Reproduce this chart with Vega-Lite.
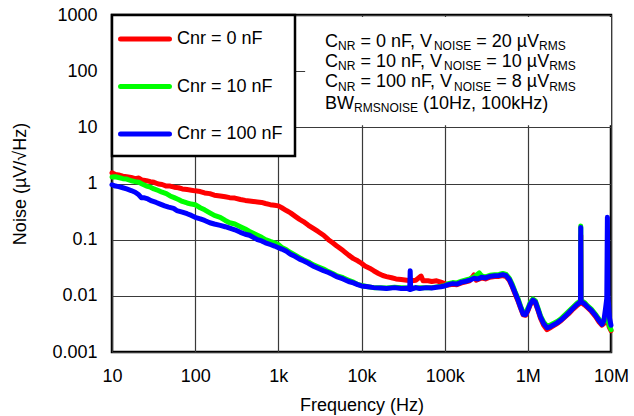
{
"$schema": "https://vega.github.io/schema/vega-lite/v6.json",
"width": 499, "height": 337,
"autosize": "none",
"padding": {"left": 112, "top": 15, "right": 23, "bottom": 64},
"background": "white",
"config": {
  "view": {"stroke": "black", "strokeWidth": 2.5},
  "font": "Liberation Sans",
  "axis": {"labelFont": "Liberation Sans", "labelFontSize": 18, "labelColor": "black", "titleFont": "Liberation Sans", "titleFontSize": 18, "titleFontWeight": "normal", "titleColor": "black", "ticks": false, "domain": false, "grid": true, "gridColor": "#3a3a3a", "gridWidth": 1.2, "gridOpacity": 1},
  "legend": {"fillColor": "white", "strokeColor": "black", "strokeWidth": 2.5, "padding": 12, "rowPadding": 25.5, "symbolType": "M-2.67,0H2.67", "symbolSize": 336, "symbolStrokeWidth": 5, "symbolOffset": 9, "labelOffset": 20, "labelFontSize": 18, "labelFont": "Liberation Sans", "labelColor": "black", "labelLimit": 300}
},
"datasets": {
"red": [
{"s":"0","f":10,"v":1.55},{"s":"0","f":11,"v":1.45},{"s":"0","f":12,"v":1.42},{"s":"0","f":13.5,"v":1.35},{"s":"0","f":15,"v":1.32},{"s":"0","f":17,"v":1.28},{"s":"0","f":19,"v":1.22},{"s":"0","f":21,"v":1.25},{"s":"0","f":23,"v":1.15},{"s":"0","f":26,"v":1.12},{"s":"0","f":29,"v":1.08},{"s":"0","f":32,"v":1.05},{"s":"0","f":36,"v":0.98},{"s":"0","f":40,"v":0.96},{"s":"0","f":45,"v":0.9},{"s":"0","f":50,"v":0.9},{"s":"0","f":56,"v":0.86},{"s":"0","f":63,"v":0.84},{"s":"0","f":70,"v":0.8},{"s":"0","f":80,"v":0.78},{"s":"0","f":90,"v":0.76},{"s":"0","f":100,"v":0.74},{"s":"0","f":115,"v":0.72},{"s":"0","f":130,"v":0.68},{"s":"0","f":150,"v":0.66},{"s":"0","f":170,"v":0.62},{"s":"0","f":200,"v":0.6},{"s":"0","f":230,"v":0.58},{"s":"0","f":260,"v":0.56},{"s":"0","f":300,"v":0.55},{"s":"0","f":350,"v":0.52},{"s":"0","f":400,"v":0.5},{"s":"0","f":450,"v":0.49},{"s":"0","f":500,"v":0.48},{"s":"0","f":560,"v":0.47},{"s":"0","f":630,"v":0.46},{"s":"0","f":700,"v":0.44},{"s":"0","f":800,"v":0.42},{"s":"0","f":900,"v":0.41},{"s":"0","f":1000,"v":0.4},{"s":"0","f":1100,"v":0.37},{"s":"0","f":1250,"v":0.33},{"s":"0","f":1400,"v":0.3},{"s":"0","f":1600,"v":0.26},{"s":"0","f":1800,"v":0.23},{"s":"0","f":2000,"v":0.21},{"s":"0","f":2300,"v":0.18},{"s":"0","f":2600,"v":0.16},{"s":"0","f":3000,"v":0.14},{"s":"0","f":3500,"v":0.12},{"s":"0","f":4000,"v":0.1},{"s":"0","f":4500,"v":0.088},{"s":"0","f":5000,"v":0.078},{"s":"0","f":6000,"v":0.064},{"s":"0","f":7000,"v":0.053},{"s":"0","f":8000,"v":0.046},{"s":"0","f":9000,"v":0.042},{"s":"0","f":10000,"v":0.038},{"s":"0","f":11000,"v":0.034},{"s":"0","f":12500,"v":0.031},{"s":"0","f":14000,"v":0.028},{"s":"0","f":16000,"v":0.025},{"s":"0","f":18000,"v":0.023},{"s":"0","f":20000,"v":0.022},{"s":"0","f":23000,"v":0.021},{"s":"0","f":26000,"v":0.02},{"s":"0","f":30000,"v":0.0195},{"s":"0","f":35000,"v":0.019},{"s":"0","f":40000,"v":0.0185},{"s":"0","f":45000,"v":0.019},{"s":"0","f":52000,"v":0.0225},{"s":"0","f":55000,"v":0.0185},{"s":"0","f":63000,"v":0.0185},{"s":"0","f":70000,"v":0.018},{"s":"0","f":80000,"v":0.0185},{"s":"0","f":90000,"v":0.0175},{"s":"0","f":100000,"v":0.0165},
{"s":"0","f":110000,"v":0.0155},{"s":"0","f":125000,"v":0.016},{"s":"0","f":140000,"v":0.0158},{"s":"0","f":160000,"v":0.017},{"s":"0","f":180000,"v":0.0178},{"s":"0","f":200000,"v":0.0185},{"s":"0","f":225000,"v":0.0235},{"s":"0","f":240000,"v":0.019},{"s":"0","f":280000,"v":0.0208},{"s":"0","f":310000,"v":0.02},{"s":"0","f":350000,"v":0.0215},{"s":"0","f":400000,"v":0.022},{"s":"0","f":450000,"v":0.0222},{"s":"0","f":500000,"v":0.023},{"s":"0","f":550000,"v":0.022},{"s":"0","f":600000,"v":0.0188},{"s":"0","f":650000,"v":0.0145},{"s":"0","f":700000,"v":0.011},{"s":"0","f":760000,"v":0.0082},{"s":"0","f":820000,"v":0.006},{"s":"0","f":880000,"v":0.0046},{"s":"0","f":940000,"v":0.0045},{"s":"0","f":1000000,"v":0.0054},{"s":"0","f":1070000,"v":0.007},{"s":"0","f":1150000,"v":0.0081},{"s":"0","f":1230000,"v":0.0075},{"s":"0","f":1320000,"v":0.0056},{"s":"0","f":1420000,"v":0.004},{"s":"0","f":1550000,"v":0.003},{"s":"0","f":1700000,"v":0.0025},{"s":"0","f":1850000,"v":0.0027},{"s":"0","f":2000000,"v":0.0029},{"s":"0","f":2250000,"v":0.0032},{"s":"0","f":2500000,"v":0.0036},{"s":"0","f":2800000,"v":0.0042},{"s":"0","f":3100000,"v":0.0048},{"s":"0","f":3500000,"v":0.0058},{"s":"0","f":3900000,"v":0.0067},{"s":"0","f":4200000,"v":0.0073},{"s":"0","f":4300000,"v":0.0075},{"s":"0","f":4330000,"v":0.12},{"s":"0","f":4360000,"v":0.0075},{"s":"0","f":4500000,"v":0.0074},{"s":"0","f":4800000,"v":0.0069},{"s":"0","f":5200000,"v":0.0062},{"s":"0","f":5800000,"v":0.0053},{"s":"0","f":6500000,"v":0.0043},{"s":"0","f":7200000,"v":0.0034},{"s":"0","f":7800000,"v":0.003},{"s":"0","f":8200000,"v":0.0032},{"s":"0","f":8600000,"v":0.004},{"s":"0","f":9000000,"v":0.0044},{"s":"0","f":9500000,"v":0.0028},{"s":"0","f":10000000,"v":0.0024}
],
"green": [
{"s":"10","f":10,"v":1.3},{"s":"10","f":11,"v":1.32},{"s":"10","f":12,"v":1.28},{"s":"10","f":13.5,"v":1.22},{"s":"10","f":15,"v":1.2},{"s":"10","f":17,"v":1.12},{"s":"10","f":19,"v":1.08},{"s":"10","f":21,"v":1.05},{"s":"10","f":23,"v":0.98},{"s":"10","f":26,"v":0.9},{"s":"10","f":29,"v":0.86},{"s":"10","f":32,"v":0.8},{"s":"10","f":36,"v":0.75},{"s":"10","f":40,"v":0.7},{"s":"10","f":45,"v":0.66},{"s":"10","f":50,"v":0.6},{"s":"10","f":56,"v":0.56},{"s":"10","f":63,"v":0.52},{"s":"10","f":70,"v":0.48},{"s":"10","f":80,"v":0.45},{"s":"10","f":90,"v":0.43},{"s":"10","f":100,"v":0.42},{"s":"10","f":115,"v":0.37},{"s":"10","f":130,"v":0.34},{"s":"10","f":150,"v":0.3},{"s":"10","f":170,"v":0.27},{"s":"10","f":200,"v":0.25},{"s":"10","f":230,"v":0.22},{"s":"10","f":260,"v":0.2},{"s":"10","f":300,"v":0.19},{"s":"10","f":350,"v":0.17},{"s":"10","f":400,"v":0.155},{"s":"10","f":450,"v":0.14},{"s":"10","f":500,"v":0.13},{"s":"10","f":560,"v":0.12},{"s":"10","f":630,"v":0.11},{"s":"10","f":700,"v":0.1},{"s":"10","f":800,"v":0.093},{"s":"10","f":900,"v":0.088},{"s":"10","f":1000,"v":0.082},{"s":"10","f":1100,"v":0.073},{"s":"10","f":1250,"v":0.066},{"s":"10","f":1400,"v":0.059},{"s":"10","f":1600,"v":0.053},{"s":"10","f":1800,"v":0.048},{"s":"10","f":2000,"v":0.044},{"s":"10","f":2300,"v":0.04},{"s":"10","f":2600,"v":0.036},{"s":"10","f":3000,"v":0.033},{"s":"10","f":3500,"v":0.03},{"s":"10","f":4000,"v":0.027},{"s":"10","f":4500,"v":0.025},{"s":"10","f":5000,"v":0.023},{"s":"10","f":6000,"v":0.021},{"s":"10","f":7000,"v":0.019},{"s":"10","f":8000,"v":0.0175},{"s":"10","f":9000,"v":0.016},{"s":"10","f":10000,"v":0.0153},{"s":"10","f":12000,"v":0.0145},{"s":"10","f":14000,"v":0.014},{"s":"10","f":17000,"v":0.014},{"s":"10","f":20000,"v":0.0138},{"s":"10","f":25000,"v":0.0142},{"s":"10","f":30000,"v":0.014},{"s":"10","f":40000,"v":0.0138},{"s":"10","f":50000,"v":0.014},{"s":"10","f":70000,"v":0.014},{"s":"10","f":100000,"v":0.0152},
{"s":"10","f":110000,"v":0.0165},{"s":"10","f":125000,"v":0.0172},{"s":"10","f":140000,"v":0.017},{"s":"10","f":160000,"v":0.0183},{"s":"10","f":180000,"v":0.0192},{"s":"10","f":200000,"v":0.02},{"s":"10","f":225000,"v":0.0215},{"s":"10","f":260000,"v":0.0255},{"s":"10","f":280000,"v":0.0225},{"s":"10","f":310000,"v":0.0218},{"s":"10","f":350000,"v":0.0232},{"s":"10","f":400000,"v":0.0238},{"s":"10","f":450000,"v":0.024},{"s":"10","f":500000,"v":0.025},{"s":"10","f":550000,"v":0.024},{"s":"10","f":600000,"v":0.0205},{"s":"10","f":650000,"v":0.016},{"s":"10","f":700000,"v":0.012},{"s":"10","f":760000,"v":0.009},{"s":"10","f":820000,"v":0.0065},{"s":"10","f":880000,"v":0.005},{"s":"10","f":940000,"v":0.0049},{"s":"10","f":1000000,"v":0.0059},{"s":"10","f":1070000,"v":0.0076},{"s":"10","f":1150000,"v":0.0088},{"s":"10","f":1230000,"v":0.0082},{"s":"10","f":1320000,"v":0.0061},{"s":"10","f":1420000,"v":0.0044},{"s":"10","f":1550000,"v":0.0034},{"s":"10","f":1700000,"v":0.0029},{"s":"10","f":1850000,"v":0.003},{"s":"10","f":2000000,"v":0.0032},{"s":"10","f":2250000,"v":0.0035},{"s":"10","f":2500000,"v":0.0039},{"s":"10","f":2800000,"v":0.0046},{"s":"10","f":3100000,"v":0.0053},{"s":"10","f":3500000,"v":0.0063},{"s":"10","f":3900000,"v":0.0074},{"s":"10","f":4200000,"v":0.008},{"s":"10","f":4300000,"v":0.0082},{"s":"10","f":4330000,"v":0.175},{"s":"10","f":4360000,"v":0.0082},{"s":"10","f":4500000,"v":0.0081},{"s":"10","f":4800000,"v":0.0076},{"s":"10","f":5200000,"v":0.0067},{"s":"10","f":5800000,"v":0.0058},{"s":"10","f":6500000,"v":0.0047},{"s":"10","f":7200000,"v":0.0038},{"s":"10","f":7800000,"v":0.0033},{"s":"10","f":8200000,"v":0.0035},{"s":"10","f":8600000,"v":0.0046},{"s":"10","f":9000000,"v":0.0048},{"s":"10","f":9500000,"v":0.003},{"s":"10","f":10000000,"v":0.0025}
],
"blue": [
{"s":"100","f":10,"v":0.95},{"s":"100","f":11,"v":0.9},{"s":"100","f":12,"v":0.88},{"s":"100","f":13.5,"v":0.84},{"s":"100","f":15,"v":0.8},{"s":"100","f":17,"v":0.75},{"s":"100","f":19,"v":0.7},{"s":"100","f":21,"v":0.63},{"s":"100","f":22.5,"v":0.56},{"s":"100","f":24,"v":0.56},{"s":"100","f":27,"v":0.53},{"s":"100","f":30,"v":0.49},{"s":"100","f":34,"v":0.46},{"s":"100","f":38,"v":0.43},{"s":"100","f":43,"v":0.4},{"s":"100","f":48,"v":0.38},{"s":"100","f":55,"v":0.36},{"s":"100","f":60,"v":0.33},{"s":"100","f":70,"v":0.31},{"s":"100","f":80,"v":0.29},{"s":"100","f":90,"v":0.27},{"s":"100","f":100,"v":0.25},{"s":"100","f":115,"v":0.235},{"s":"100","f":130,"v":0.22},{"s":"100","f":150,"v":0.2},{"s":"100","f":170,"v":0.19},{"s":"100","f":200,"v":0.18},{"s":"100","f":230,"v":0.17},{"s":"100","f":260,"v":0.16},{"s":"100","f":300,"v":0.15},{"s":"100","f":350,"v":0.135},{"s":"100","f":400,"v":0.125},{"s":"100","f":450,"v":0.12},{"s":"100","f":500,"v":0.11},{"s":"100","f":560,"v":0.1},{"s":"100","f":630,"v":0.095},{"s":"100","f":700,"v":0.088},{"s":"100","f":800,"v":0.082},{"s":"100","f":900,"v":0.077},{"s":"100","f":1000,"v":0.072},{"s":"100","f":1100,"v":0.068},{"s":"100","f":1250,"v":0.062},{"s":"100","f":1400,"v":0.055},{"s":"100","f":1600,"v":0.05},{"s":"100","f":1800,"v":0.045},{"s":"100","f":2000,"v":0.042},{"s":"100","f":2300,"v":0.038},{"s":"100","f":2600,"v":0.034},{"s":"100","f":3000,"v":0.031},{"s":"100","f":3500,"v":0.028},{"s":"100","f":4000,"v":0.026},{"s":"100","f":4500,"v":0.024},{"s":"100","f":5000,"v":0.022},{"s":"100","f":6000,"v":0.02},{"s":"100","f":7000,"v":0.018},{"s":"100","f":8000,"v":0.017},{"s":"100","f":9000,"v":0.0158},{"s":"100","f":10000,"v":0.015},{"s":"100","f":12000,"v":0.0145},{"s":"100","f":14000,"v":0.014},{"s":"100","f":17000,"v":0.0138},{"s":"100","f":20000,"v":0.0135},{"s":"100","f":25000,"v":0.014},{"s":"100","f":30000,"v":0.0135},{"s":"100","f":35000,"v":0.0137},{"s":"100","f":38000,"v":0.013},{"s":"100","f":38500,"v":0.028},{"s":"100","f":39000,"v":0.013},{"s":"100","f":45000,"v":0.014},{"s":"100","f":50000,"v":0.0135},{"s":"100","f":60000,"v":0.014},{"s":"100","f":70000,"v":0.0138},{"s":"100","f":80000,"v":0.0142},{"s":"100","f":90000,"v":0.0145},{"s":"100","f":100000,"v":0.015},
{"s":"100","f":110000,"v":0.0158},{"s":"100","f":125000,"v":0.0165},{"s":"100","f":140000,"v":0.0162},{"s":"100","f":160000,"v":0.0175},{"s":"100","f":180000,"v":0.0182},{"s":"100","f":200000,"v":0.019},{"s":"100","f":225000,"v":0.0205},{"s":"100","f":250000,"v":0.02},{"s":"100","f":280000,"v":0.0215},{"s":"100","f":310000,"v":0.0208},{"s":"100","f":350000,"v":0.0222},{"s":"100","f":400000,"v":0.0228},{"s":"100","f":450000,"v":0.023},{"s":"100","f":500000,"v":0.0238},{"s":"100","f":550000,"v":0.0228},{"s":"100","f":600000,"v":0.0195},{"s":"100","f":650000,"v":0.015},{"s":"100","f":700000,"v":0.0115},{"s":"100","f":760000,"v":0.0085},{"s":"100","f":820000,"v":0.0062},{"s":"100","f":880000,"v":0.0047},{"s":"100","f":940000,"v":0.0046},{"s":"100","f":1000000,"v":0.0056},{"s":"100","f":1070000,"v":0.0072},{"s":"100","f":1150000,"v":0.0084},{"s":"100","f":1230000,"v":0.0078},{"s":"100","f":1320000,"v":0.0058},{"s":"100","f":1420000,"v":0.0042},{"s":"100","f":1550000,"v":0.0032},{"s":"100","f":1700000,"v":0.0027},{"s":"100","f":1850000,"v":0.0028},{"s":"100","f":2000000,"v":0.003},{"s":"100","f":2250000,"v":0.0033},{"s":"100","f":2500000,"v":0.0037},{"s":"100","f":2800000,"v":0.0043},{"s":"100","f":3100000,"v":0.005},{"s":"100","f":3500000,"v":0.006},{"s":"100","f":3900000,"v":0.007},{"s":"100","f":4200000,"v":0.0076},{"s":"100","f":4300000,"v":0.0078},{"s":"100","f":4330000,"v":0.165},{"s":"100","f":4360000,"v":0.0078},{"s":"100","f":4500000,"v":0.0077},{"s":"100","f":4800000,"v":0.0072},{"s":"100","f":5200000,"v":0.0064},{"s":"100","f":5800000,"v":0.0055},{"s":"100","f":6500000,"v":0.0045},{"s":"100","f":7200000,"v":0.0036},{"s":"100","f":7800000,"v":0.0031},{"s":"100","f":8200000,"v":0.0036},{"s":"100","f":8600000,"v":0.006},{"s":"100","f":8900000,"v":0.009},{"s":"100","f":9050000,"v":0.25},{"s":"100","f":9200000,"v":0.01},{"s":"100","f":9600000,"v":0.004},{"s":"100","f":10000000,"v":0.003}
]
},
"layer": [
{"data": {"values": [{}]}, "mark": {"type": "rect", "fill": "white", "stroke": null, "strokeWidth": 0},
 "encoding": {"x": {"datum": 2100, "type": "quantitative"}, "x2": {"datum": 10000000}, "y": {"datum": 920, "type": "quantitative"}, "y2": {"datum": 10.9}}},
{"data": {"name": "red"}, "mark": {"type": "line", "strokeWidth": 5, "strokeCap": "round", "strokeJoin": "round"},
 "encoding": {
  "x": {"field": "f", "type": "quantitative", "scale": {"type": "log", "domain": [10, 10000000]}, "title": "Frequency (Hz)", "axis": {"values": [10, 100, 1000, 10000, 100000, 1000000, 10000000], "labelExpr": "datum.value >= 1000000 ? (datum.value/1000000) + 'M' : datum.value >= 1000 ? (datum.value/1000) + 'k' : datum.value + ''", "labelFlush": false, "labelOverlap": false, "labelPadding": 15, "titlePadding": 11}},
  "y": {"field": "v", "type": "quantitative", "scale": {"type": "log", "domain": [0.001, 1000]}, "title": "Noise (µV/√Hz)", "axis": {"values": [0.001, 0.01, 0.1, 1, 10, 100, 1000], "format": "~g", "labelPadding": 15, "titlePadding": 22, "labelOverlap": false}},
  "color": {"field": "s", "type": "nominal", "scale": {"domain": ["0", "10", "100"], "range": ["#ff0000", "#00ff00", "#0000ff"]}, "legend": {"orient": "none", "legendX": 0, "legendY": 0, "title": null, "labelExpr": "'Cnr = ' + datum.label + ' nF'", "encode": {"symbols": {"update": {"strokeCap": {"value": "round"}}}}}}
 }},
{"data": {"name": "green"}, "mark": {"type": "line", "strokeWidth": 5, "strokeCap": "round", "strokeJoin": "round"},
 "encoding": {
  "x": {"field": "f", "type": "quantitative", "scale": {"type": "log", "domain": [10, 10000000]}, "title": "Frequency (Hz)"},
  "y": {"field": "v", "type": "quantitative", "scale": {"type": "log", "domain": [0.001, 1000]}, "title": "Noise (µV/√Hz)"},
  "color": {"field": "s", "type": "nominal"}
 }},
{"data": {"name": "blue"}, "mark": {"type": "line", "strokeWidth": 5, "strokeCap": "round", "strokeJoin": "round"},
 "encoding": {
  "x": {"field": "f", "type": "quantitative", "scale": {"type": "log", "domain": [10, 10000000]}, "title": "Frequency (Hz)"},
  "y": {"field": "v", "type": "quantitative", "scale": {"type": "log", "domain": [0.001, 1000]}, "title": "Noise (µV/√Hz)"},
  "color": {"field": "s", "type": "nominal"}
 }},
{"data": {"values": [{}]}, "mark": {"type": "text", "text": "C", "fontSize": 18, "align": "left", "baseline": "alphabetic", "color": "black", "dx": 0}, "encoding": {"x": {"datum": 3650, "type": "quantitative"}, "y": {"datum": 272, "type": "quantitative"}}},
{"data": {"values": [{}]}, "mark": {"type": "text", "text": "NR", "fontSize": 12, "align": "left", "baseline": "alphabetic", "color": "black", "dx": 13, "dy": 3.5}, "encoding": {"x": {"datum": 3650, "type": "quantitative"}, "y": {"datum": 272, "type": "quantitative"}}},
{"data": {"values": [{}]}, "mark": {"type": "text", "text": "= 0 nF, V", "fontSize": 18, "align": "left", "baseline": "alphabetic", "color": "black", "dx": 35.3}, "encoding": {"x": {"datum": 3650, "type": "quantitative"}, "y": {"datum": 272, "type": "quantitative"}}},
{"data": {"values": [{}]}, "mark": {"type": "text", "text": "NOISE", "fontSize": 12, "align": "left", "baseline": "alphabetic", "color": "black", "dx": 108.8, "dy": 3.5}, "encoding": {"x": {"datum": 3650, "type": "quantitative"}, "y": {"datum": 272, "type": "quantitative"}}},
{"data": {"values": [{}]}, "mark": {"type": "text", "text": "= 20 µV", "fontSize": 18, "align": "left", "baseline": "alphabetic", "color": "black", "dx": 151.1}, "encoding": {"x": {"datum": 3650, "type": "quantitative"}, "y": {"datum": 272, "type": "quantitative"}}},
{"data": {"values": [{}]}, "mark": {"type": "text", "text": "RMS", "fontSize": 12, "align": "left", "baseline": "alphabetic", "color": "black", "dx": 214, "dy": 3.5}, "encoding": {"x": {"datum": 3650, "type": "quantitative"}, "y": {"datum": 272, "type": "quantitative"}}},
{"data": {"values": [{}]}, "mark": {"type": "text", "text": "C", "fontSize": 18, "align": "left", "baseline": "alphabetic", "color": "black", "dx": 0}, "encoding": {"x": {"datum": 3650, "type": "quantitative"}, "y": {"datum": 120, "type": "quantitative"}}},
{"data": {"values": [{}]}, "mark": {"type": "text", "text": "NR", "fontSize": 12, "align": "left", "baseline": "alphabetic", "color": "black", "dx": 13, "dy": 3.5}, "encoding": {"x": {"datum": 3650, "type": "quantitative"}, "y": {"datum": 120, "type": "quantitative"}}},
{"data": {"values": [{}]}, "mark": {"type": "text", "text": "= 10 nF, V", "fontSize": 18, "align": "left", "baseline": "alphabetic", "color": "black", "dx": 35.3}, "encoding": {"x": {"datum": 3650, "type": "quantitative"}, "y": {"datum": 120, "type": "quantitative"}}},
{"data": {"values": [{}]}, "mark": {"type": "text", "text": "NOISE", "fontSize": 12, "align": "left", "baseline": "alphabetic", "color": "black", "dx": 118.9, "dy": 3.5}, "encoding": {"x": {"datum": 3650, "type": "quantitative"}, "y": {"datum": 120, "type": "quantitative"}}},
{"data": {"values": [{}]}, "mark": {"type": "text", "text": "= 10 µV", "fontSize": 18, "align": "left", "baseline": "alphabetic", "color": "black", "dx": 161.2}, "encoding": {"x": {"datum": 3650, "type": "quantitative"}, "y": {"datum": 120, "type": "quantitative"}}},
{"data": {"values": [{}]}, "mark": {"type": "text", "text": "RMS", "fontSize": 12, "align": "left", "baseline": "alphabetic", "color": "black", "dx": 224.1, "dy": 3.5}, "encoding": {"x": {"datum": 3650, "type": "quantitative"}, "y": {"datum": 120, "type": "quantitative"}}},
{"data": {"values": [{}]}, "mark": {"type": "text", "text": "C", "fontSize": 18, "align": "left", "baseline": "alphabetic", "color": "black", "dx": 0}, "encoding": {"x": {"datum": 3650, "type": "quantitative"}, "y": {"datum": 51.4, "type": "quantitative"}}},
{"data": {"values": [{}]}, "mark": {"type": "text", "text": "NR", "fontSize": 12, "align": "left", "baseline": "alphabetic", "color": "black", "dx": 13, "dy": 3.5}, "encoding": {"x": {"datum": 3650, "type": "quantitative"}, "y": {"datum": 51.4, "type": "quantitative"}}},
{"data": {"values": [{}]}, "mark": {"type": "text", "text": "= 100 nF, V", "fontSize": 18, "align": "left", "baseline": "alphabetic", "color": "black", "dx": 35.3}, "encoding": {"x": {"datum": 3650, "type": "quantitative"}, "y": {"datum": 51.4, "type": "quantitative"}}},
{"data": {"values": [{}]}, "mark": {"type": "text", "text": "NOISE", "fontSize": 12, "align": "left", "baseline": "alphabetic", "color": "black", "dx": 128.9, "dy": 3.5}, "encoding": {"x": {"datum": 3650, "type": "quantitative"}, "y": {"datum": 51.4, "type": "quantitative"}}},
{"data": {"values": [{}]}, "mark": {"type": "text", "text": "= 8 µV", "fontSize": 18, "align": "left", "baseline": "alphabetic", "color": "black", "dx": 171.2}, "encoding": {"x": {"datum": 3650, "type": "quantitative"}, "y": {"datum": 51.4, "type": "quantitative"}}},
{"data": {"values": [{}]}, "mark": {"type": "text", "text": "RMS", "fontSize": 12, "align": "left", "baseline": "alphabetic", "color": "black", "dx": 224.1, "dy": 3.5}, "encoding": {"x": {"datum": 3650, "type": "quantitative"}, "y": {"datum": 51.4, "type": "quantitative"}}},
{"data": {"values": [{}]}, "mark": {"type": "text", "text": "BW", "fontSize": 18, "align": "left", "baseline": "alphabetic", "color": "black", "dx": 0}, "encoding": {"x": {"datum": 3650, "type": "quantitative"}, "y": {"datum": 21.5, "type": "quantitative"}}},
{"data": {"values": [{}]}, "mark": {"type": "text", "text": "RMSNOISE", "fontSize": 12, "align": "left", "baseline": "alphabetic", "color": "black", "dx": 29, "dy": 3.5}, "encoding": {"x": {"datum": 3650, "type": "quantitative"}, "y": {"datum": 21.5, "type": "quantitative"}}},
{"data": {"values": [{}]}, "mark": {"type": "text", "text": "(10Hz, 100kHz)", "fontSize": 18, "align": "left", "baseline": "alphabetic", "color": "black", "dx": 98}, "encoding": {"x": {"datum": 3650, "type": "quantitative"}, "y": {"datum": 21.5, "type": "quantitative"}}}
]
}
